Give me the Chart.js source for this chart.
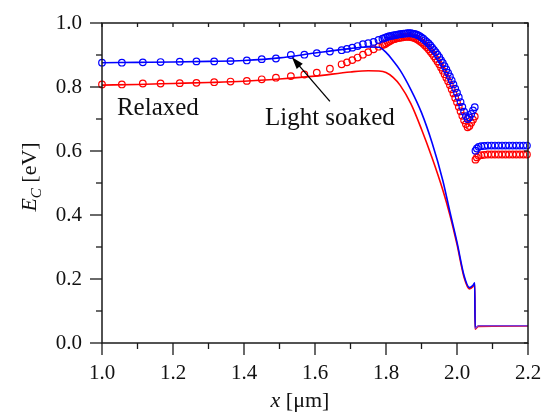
<!DOCTYPE html>
<html>
<head>
<meta charset="utf-8">
<script src="https://cdn.jsdelivr.net/npm/chart.js"></script>
<style>
  html, body { margin: 0; background: #fff; }
  #wrap { width: 544px; height: 415px; position: relative; }
</style>
</head>
<body>
<div id="wrap"><canvas id="ecChart"></canvas></div>
<script>
// fitted curves (solid lines), shared x positions
const fitX = [1.00, 1.10, 1.20, 1.30, 1.40, 1.50, 1.60, 1.70, 1.75, 1.78, 1.80, 1.82, 1.84,
  1.87, 1.90, 1.93, 1.96, 1.98, 2.00, 2.02, 2.035, 2.045, 2.05, 2.051, 2.06, 2.20];
const soakedFit = [0.876, 0.877, 0.878, 0.880, 0.883, 0.891, 0.906, 0.920, 0.925, 0.924, 0.908, 0.882, 0.852,
  0.792, 0.720, 0.625, 0.508, 0.410, 0.315, 0.210, 0.173, 0.180, 0.188, 0.046, 0.054, 0.054];
const relaxedFit = [0.806, 0.808, 0.811, 0.814, 0.818, 0.825, 0.834, 0.847, 0.851, 0.850, 0.845, 0.830, 0.805,
  0.748, 0.668, 0.578, 0.478, 0.400, 0.308, 0.205, 0.169, 0.176, 0.184, 0.043, 0.052, 0.053];

// measured points (open circles)
const circleX = [
  1.000, 1.056, 1.115, 1.165, 1.219, 1.266, 1.316, 1.362, 1.408, 1.450,
  1.490, 1.532, 1.570, 1.605, 1.642, 1.675, 1.690, 1.705, 1.720, 1.735,
  1.750, 1.765, 1.779, 1.790, 1.795, 1.800, 1.805, 1.810, 1.815, 1.820,
  1.825, 1.830, 1.835, 1.840, 1.845, 1.850, 1.855, 1.860, 1.865, 1.870,
  1.875, 1.880, 1.885, 1.890, 1.895, 1.900, 1.905, 1.910, 1.915, 1.920,
  1.925, 1.930, 1.935, 1.940, 1.945, 1.950, 1.955, 1.960, 1.965, 1.970,
  1.975, 1.980, 1.985, 1.990, 1.995, 2.000, 2.005, 2.010, 2.015, 2.020,
  2.025, 2.030, 2.035, 2.040, 2.045, 2.050,
  2.052, 2.056, 2.061, 2.068, 2.077, 2.087, 2.097, 2.107, 2.117, 2.127,
  2.137, 2.147, 2.157, 2.167, 2.177, 2.187, 2.197];
const soakedData = [
  0.876, 0.876, 0.877, 0.878, 0.879, 0.880, 0.880, 0.881, 0.883, 0.887,
  0.889, 0.900, 0.901, 0.906, 0.911, 0.915, 0.919, 0.923, 0.928, 0.934,
  0.937, 0.941, 0.947, 0.951, 0.953, 0.955, 0.957, 0.959, 0.960, 0.961,
  0.962, 0.963, 0.964, 0.965, 0.966, 0.967, 0.967, 0.968, 0.968, 0.968,
  0.967, 0.966, 0.964, 0.962, 0.959, 0.955, 0.951, 0.946, 0.941, 0.936,
  0.930, 0.923, 0.916, 0.909, 0.901, 0.893, 0.884, 0.875, 0.865, 0.855,
  0.844, 0.833, 0.821, 0.808, 0.795, 0.782, 0.768, 0.753, 0.738, 0.723,
  0.709, 0.700, 0.705, 0.716, 0.727, 0.737,
  0.601, 0.608, 0.613, 0.615, 0.616, 0.617, 0.617, 0.617, 0.617, 0.617,
  0.617, 0.617, 0.617, 0.617, 0.617, 0.617, 0.617];
const relaxedData = [
  0.808, 0.808, 0.811, 0.811, 0.812, 0.813, 0.815, 0.817, 0.819, 0.824,
  0.829, 0.834, 0.839, 0.845, 0.857, 0.871, 0.877, 0.884, 0.892, 0.901,
  0.909, 0.918, 0.926, 0.931, 0.933, 0.936, 0.940, 0.943, 0.946, 0.949,
  0.950, 0.952, 0.953, 0.954, 0.955, 0.956, 0.957, 0.957, 0.957, 0.956,
  0.955, 0.953, 0.951, 0.948, 0.944, 0.940, 0.935, 0.930, 0.924, 0.918,
  0.911, 0.904, 0.896, 0.888, 0.880, 0.871, 0.861, 0.851, 0.840, 0.829,
  0.818, 0.806, 0.793, 0.780, 0.766, 0.752, 0.738, 0.724, 0.710, 0.696,
  0.684, 0.674, 0.678, 0.688, 0.698, 0.708,
  0.573, 0.580, 0.585, 0.587, 0.588, 0.589, 0.589, 0.589, 0.589, 0.589,
  0.589, 0.589, 0.589, 0.589, 0.589, 0.589, 0.589];

const pts = (xs, ys) => xs.map((x, i) => ({ x: x, y: ys[i] }));
const serif = '"Liberation Serif", "Times New Roman", serif';

//Frame, ticks, titles and notes
const framePlugin = {
  id: "frame",
  afterDraw(chart) {
    const { ctx, chartArea: a } = chart;
    const sx = chart.scales.x, sy = chart.scales.y;
    const line = (x1, y1, x2, y2) => {
      ctx.beginPath(); ctx.moveTo(x1, y1); ctx.lineTo(x2, y2); ctx.stroke();
    };
    ctx.save();
    ctx.strokeStyle = "#1a1a1a";
    ctx.lineWidth = 1.5;
    ctx.strokeRect(a.left, a.top, a.right - a.left, a.bottom - a.top);
    ctx.lineWidth = 1.3;
    sx.ticks.forEach((t, i) => {
      const px = sx.getPixelForValue(t.value);
      line(px, a.bottom, px, a.bottom + (i % 2 === 0 ? 12 : 6));
      line(px, a.top, px, a.top + 4);
    });
    sy.ticks.forEach((t, i) => {
      const py = sy.getPixelForValue(t.value);
      line(a.left - (i % 2 === 0 ? 12 : 6), py, a.left, py);
      line(a.right - 4, py, a.right, py);
    });

    ctx.fillStyle = "#111";
    ctx.textBaseline = "alphabetic";
    // x title
    ctx.font = "italic 22px " + serif;
    const wx = ctx.measureText("x").width;
    ctx.font = "22px " + serif;
    const wu = ctx.measureText(" [\u03bcm]").width;
    let cx = 300 - (wx + wu) / 2;
    ctx.font = "italic 22px " + serif;
    ctx.fillText("x", cx, 407);
    ctx.font = "22px " + serif;
    ctx.fillText(" [\u03bcm]", cx + wx, 407);

    // y title
    ctx.save();
    ctx.translate(36, 177);
    ctx.rotate(-Math.PI / 2);
    ctx.font = "italic 22px " + serif;
    const wE = ctx.measureText("E").width;
    ctx.font = "italic 15px " + serif;
    const wC = ctx.measureText("C").width;
    ctx.font = "22px " + serif;
    const wR = ctx.measureText(" [eV]").width;
    const s = -(wE + wC + wR) / 2;
    ctx.font = "italic 22px " + serif;
    ctx.fillText("E", s, 0);
    ctx.font = "italic 15px " + serif;
    ctx.fillText("C", s + wE, 5);
    ctx.font = "22px " + serif;
    ctx.fillText(" [eV]", s + wE + wC, 0);
    ctx.restore();

    // notes
    ctx.font = "25px " + serif;
    ctx.fillText("Relaxed", sx.getPixelForValue(1.042), sy.getPixelForValue(0.713));
    ctx.fillText("Light soaked", sx.getPixelForValue(1.459), sy.getPixelForValue(0.680));

    // arrow
    const x0 = sx.getPixelForValue(1.642), y0 = sy.getPixelForValue(0.755);
    const x1 = sx.getPixelForValue(1.535), y1 = sy.getPixelForValue(0.893);
    const ang = Math.atan2(y1 - y0, x1 - x0);
    ctx.strokeStyle = "#000";
    ctx.lineWidth = 1.3;
    line(x0, y0, x1 - 9 * Math.cos(ang), y1 - 9 * Math.sin(ang));
    ctx.fillStyle = "#000";
    ctx.beginPath();
    ctx.moveTo(x1, y1);
    ctx.lineTo(x1 - 12 * Math.cos(ang) + 4 * Math.sin(ang), y1 - 12 * Math.sin(ang) - 4 * Math.cos(ang));
    ctx.lineTo(x1 - 12 * Math.cos(ang) - 4 * Math.sin(ang), y1 - 12 * Math.sin(ang) + 4 * Math.cos(ang));
    ctx.closePath();
    ctx.fill();
    ctx.restore();
  },
};

const ctx = document.getElementById("ecChart");
new Chart(ctx, {
  type: "line",
  data: {
    datasets: [
      {
        label: "Light soaked fit",
        data: pts(fitX, soakedFit),
        borderColor: "#0000ff",
        borderWidth: 1.6,
        pointRadius: 0,
        cubicInterpolationMode: "monotone",
        segment: {
          borderColor: (c) => (c.p0.parsed.x >= 2.051 ? "#7a3ad6" : undefined),
        },
      },
      {
        label: "Light soaked",
        data: pts(circleX, soakedData),
        showLine: false,
        pointRadius: 3.3,
        pointBorderWidth: 1.2,
        pointBorderColor: "#0000ff",
        pointBackgroundColor: "rgba(0,0,0,0)",
        clip: false,
      },
      {
        label: "Relaxed fit",
        data: pts(fitX, relaxedFit),
        borderColor: "#ff0000",
        borderWidth: 1.6,
        pointRadius: 0,
        cubicInterpolationMode: "monotone",
      },
      {
        label: "Relaxed",
        data: pts(circleX, relaxedData),
        showLine: false,
        pointRadius: 3.3,
        pointBorderWidth: 1.2,
        pointBorderColor: "#ff0000",
        pointBackgroundColor: "rgba(0,0,0,0)",
        clip: false,
      },
    ],
  },
  options: {
    responsive: true,
    maintainAspectRatio: false,
    animation: false,
    layout: { padding: { top: 23, right: 16, left: 0, bottom: 0 } },
    plugins: {
      legend: { display: false },
      tooltip: { enabled: false },
    },
    scales: {
      x: {
        type: "linear",
        min: 1,
        max: 2.2,
        grid: { display: false, drawTicks: false },
        border: { display: false },
        ticks: {
          stepSize: 0.1,
          autoSkip: false,
          maxRotation: 0,
          padding: 18,
          color: "#111",
          font: { family: serif, size: 21 },
          callback: (v, i) => (i % 2 === 0 ? Number(v).toFixed(1) : ""),
        },
        afterFit: (s) => { s.height = 72; s.paddingLeft = 0; s.paddingRight = 0; },
      },
      y: {
        min: 0,
        max: 1,
        grid: { display: false, drawTicks: false },
        border: { display: false },
        ticks: {
          stepSize: 0.1,
          autoSkip: false,
          padding: 20,
          color: "#111",
          font: { family: serif, size: 21 },
          callback: (v, i) => (i % 2 === 0 ? Number(v).toFixed(1) : ""),
        },
        afterFit: (s) => { s.width = 102; s.paddingTop = 0; s.paddingBottom = 0; },
      },
    },
  },
  plugins: [framePlugin],
});
</script>
</body>
</html>
